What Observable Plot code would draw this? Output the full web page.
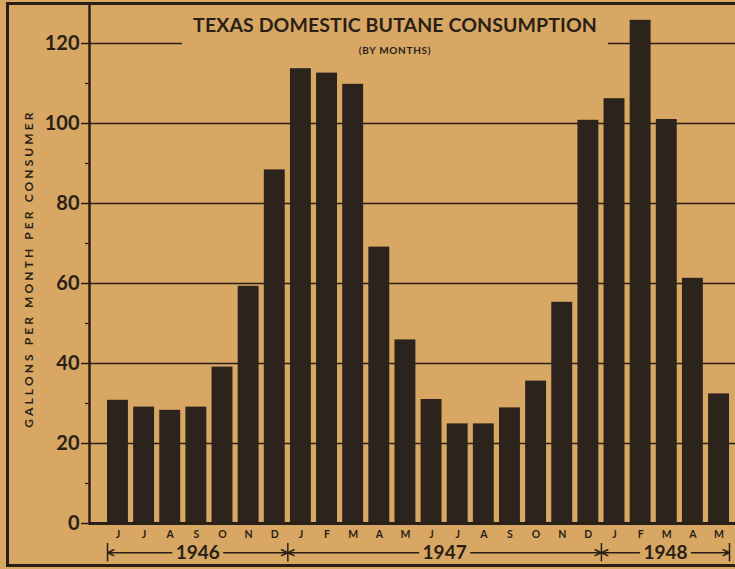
<!DOCTYPE html>
<html>
<head>
<meta charset="utf-8">
<script src="https://cdn.jsdelivr.net/npm/d3@7"></script>
<script src="https://cdn.jsdelivr.net/npm/@observablehq/plot@0.6"></script>
<style>
  html, body { margin: 0; padding: 0; background: #d7a763; overflow: hidden; }
  #wrap { position: relative; width: 735px; height: 569px; background: #d7a763; font-family: Lato, "Open Sans", sans-serif; color: #2a1f17; }
  #border { position: absolute; left: 6px; top: 2px; width: 740px; height: 559px; border: 3px solid #2a1f17; border-right: none; pointer-events: none; }
  #titlebox { position: absolute; left: 182px; top: 8px; width: 426px; height: 52px; background: #d7a763; text-align: center; }
  #title { position: absolute; left: 0; right: 0; top: 5px; font-size: 19.5px; font-weight: 700; letter-spacing: 0.1px; }
  #subtitle { position: absolute; left: 0; right: 0; top: 36px; font-size: 10px; font-weight: 700; letter-spacing: 0.7px; }
  svg { position: absolute; left: 0; top: 0; }
</style>
</head>
<body>
<div id="wrap">
  <div id="chart"></div>
  <div id="titlebox">
    <div id="title">TEXAS DOMESTIC BUTANE CONSUMPTION</div>
    <div id="subtitle">(BY MONTHS)</div>
  </div>
  <div id="border"></div>
</div>
<script>
// ---- data ----
const months = ["J","J","A","S","O","N","D","J","F","M","A","M","J","J","A","S","O","N","D","J","F","M","A","M"];
const gallons = [30.8, 29.1, 28.3, 29.1, 39.1, 59.3, 88.4, 113.7, 112.6, 109.8, 69.1, 45.9,
                 31.0, 24.9, 24.9, 28.9, 35.6, 55.3, 100.8, 106.2, 125.8, 101.0, 61.3, 32.4];
const years = ["1946", "1947", "1948"];
const monthsPerYear = [7, 12, 5];
const yTicks = [0, 20, 40, 60, 80, 100, 120];
const yMinorTicks = [10, 30, 50, 70, 90, 110];
const gridValues = [20, 40, 60, 80, 100, 120];
const yLabel = "GALLONS PER MONTH PER CONSUMER";

// ---- derived tables ----
const ink = "#2a1f17";
const barInk = "#2b231c";
const half = 0.4;
const data = gallons.map((v, i) => ({i, month: months[i], value: v}));
const n = data.length;
let start = 0;
const yearSpans = years.map((y, k) => {
  const first = start, last = start + monthsPerYear[k] - 1;
  start += monthsPerYear[k];
  const x1 = first === 0 ? first - half : first - 0.5;
  const x2 = last === n - 1 ? last + half : last + 0.5;
  return {year: y, x1, x2, mid: (x1 + x2) / 2};
});
const boundaries = [yearSpans[0].x1, ...yearSpans.map(d => d.x2)];
const bracketY = -7.3, bracketTop = -5, bracketBottom = -9.6;

const plot = Plot.plot({
  width: 735,
  height: 569,
  marginLeft: 89,
  marginRight: 0,
  marginTop: 3,
  marginBottom: 46,
  style: {background: "transparent", fontFamily: "Lato, 'Open Sans', sans-serif", color: ink},
  x: {type: "linear", domain: [-0.5, n - 0.5], range: [104.4, 731.6], axis: null},
  y: {domain: [0, 130], axis: null},
  marks: [
    Plot.ruleY(gridValues, {stroke: ink, strokeWidth: 1.5}),
    Plot.rectY(data, {x1: d => d.i - half, x2: d => d.i + half, y1: 0, y2: "value", fill: barInk}),
    Plot.ruleY([0], {stroke: ink, strokeWidth: 3}),
    Plot.frame({anchor: "left", stroke: ink, strokeWidth: 2.5}),
    Plot.axisY({ticks: yTicks, label: null, tickSize: 8, tickPadding: 2, fontSize: 20, fontWeight: 700, stroke: ink, strokeWidth: 1.5, fill: ink}),
    Plot.axisY({ticks: yMinorTicks, label: null, tickSize: 4, tickFormat: () => "", stroke: ink, strokeWidth: 1.2}),
    Plot.text(data, {x: "i", y: 0, dy: 11, text: "month", fontSize: 10.5, fontWeight: 700, fill: ink}),
    Plot.text(yearSpans, {x: "mid", y: bracketY, text: "year", fontSize: 19, fontWeight: 700, fill: ink}),
    Plot.arrow(yearSpans, {x1: "mid", x2: "x1", y1: bracketY, y2: bracketY, insetStart: 26, headLength: 7, headAngle: 50, stroke: ink, strokeWidth: 1.5}),
    Plot.arrow(yearSpans, {x1: "mid", x2: "x2", y1: bracketY, y2: bracketY, insetStart: 26, headLength: 7, headAngle: 50, stroke: ink, strokeWidth: 1.5}),
    Plot.ruleX(boundaries, {x: d => d, y1: bracketTop, y2: bracketBottom, stroke: ink, strokeWidth: 1.5}),
    Plot.text([yLabel], {frameAnchor: "left", textAnchor: "middle", text: d => d, rotate: -90, dx: -60, dy: 5, fontSize: 12, fontWeight: 700, fill: ink})
  ]
});
d3.select(plot).selectAll("text")
  .filter(function () { return this.textContent === yLabel; })
  .style("letter-spacing", "3.1px");
document.getElementById("chart").appendChild(plot);
</script>
</body>
</html>
